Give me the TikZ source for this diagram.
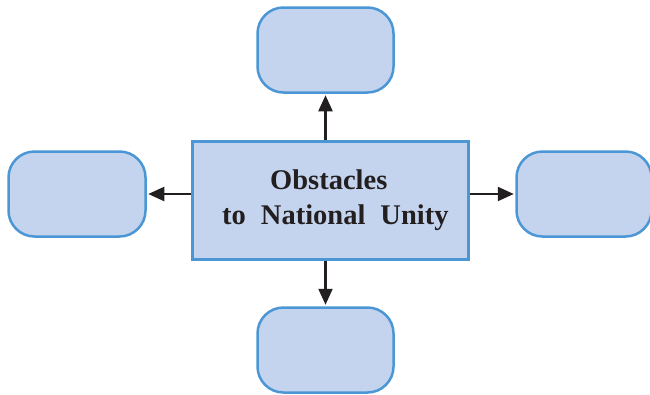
\documentclass[tikz,border=0pt]{standalone}
\usepackage{fontspec}
\setmainfont{Liberation Serif}
\usetikzlibrary{arrows.meta}
\definecolor{boxfill}{HTML}{C5D4EE}
\definecolor{boxline}{HTML}{4B96D4}
\definecolor{ink}{HTML}{231F20}
\tikzset{
  mainbox/.style={draw=boxline, fill=boxfill, line width=2.5pt, rectangle, inner sep=0pt},
  leafbox/.style={draw=boxline, fill=boxfill, line width=2.5pt, rectangle, rounded corners=26pt,
     minimum width=136pt, minimum height=85pt, inner sep=0pt},
  conn/.style={draw=ink, line width=2.2pt, -{Triangle[length=16pt,width=14pt]}, shorten >=1.5pt},
  label/.style={text=ink, font=\fontsize{28.5}{32}\selectfont\bfseries, inner sep=0pt, anchor=base west}
}
\begin{document}
\begin{tikzpicture}[x=1pt,y=-1pt]
\useasboundingbox (0,0) rectangle (650,394);
\node[mainbox, minimum width=276pt, minimum height=118pt] (center) at (330.5,200.5) {};
\node[leafbox] (top) at (325.5,50) {};
\node[leafbox] (bottom) at (325.5,350) {};
\node[leafbox, minimum width=137pt] (left) at (77,194) {};
\node[leafbox, minimum width=135pt] (right) at (584,194) {};
\node[label] (l1) at (270,189) {Obstacles};
\node[label] (l2) at (222,224) {to\hspace{15pt}National\hspace{15pt}Unity};
\draw[conn] (center.north -| top.south) -- (top.south);
\draw[conn] (center.south -| bottom.north) -- (bottom.north);
\draw[conn] (center.west |- left.east) -- (left.east);
\draw[conn] (center.east |- right.west) -- (right.west);
\end{tikzpicture}
\end{document}
